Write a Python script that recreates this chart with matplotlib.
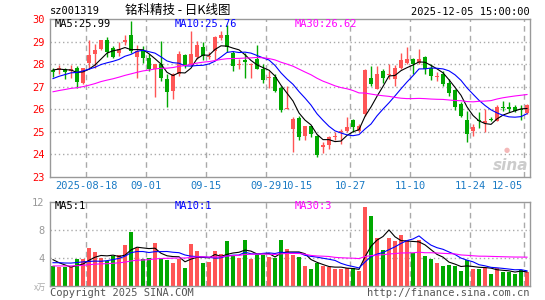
import numpy as np
import matplotlib.pyplot as plt
import matplotlib.transforms as mtransforms

plt.rcParams['font.family'] = ['DejaVu Sans Mono', 'Noto Sans CJK SC']

# daily candles, 2025-08-08 .. 2025-12-05
opens = [27.76, 27.73, 27.80, 27.70, 27.81, 27.18, 28.06, 28.46, 28.65, 29.06,
         28.72, 28.50, 28.99, 29.31, 28.33, 28.58, 28.28, 27.77, 27.99, 27.33,
         26.79, 27.55, 28.40, 27.95, 28.31, 28.77, 28.33, 28.58, 29.16, 29.31,
         28.50, 27.97, 28.17, 27.97, 28.21, 27.77, 27.37, 27.43, 26.94, 26.01,
         25.13, 25.60, 24.80, 25.24, 24.80, 24.33, 24.40, 24.77, 24.99, 25.06,
         25.53, 25.06, 25.79, 27.40, 26.92, 27.70, 27.52, 27.33, 27.84, 28.03,
         28.24, 28.03, 28.31, 27.84, 27.45, 27.58, 27.18, 26.85, 26.23, 25.53,
         25.06, 25.53, 25.38, 25.57, 25.50, 26.08, 26.12, 26.12, 26.00, 25.82]
highs = [27.82, 27.95, 27.84, 27.95, 27.92, 27.84, 29.05, 28.91, 29.06, 29.20,
         28.82, 28.99, 29.28, 29.90, 28.87, 28.80, 28.43, 27.99, 29.01, 27.55,
         27.62, 28.58, 28.43, 29.47, 29.01, 28.97, 28.55, 29.23, 29.45, 29.72,
         28.58, 28.21, 28.50, 28.06, 28.87, 27.99, 27.70, 27.55, 27.04, 27.04,
         25.65, 25.72, 25.28, 25.28, 24.85, 24.55, 24.80, 24.99, 25.13, 25.68,
         25.57, 25.35, 27.77, 27.92, 27.92, 27.77, 28.00, 27.95, 28.50, 28.77,
         28.28, 28.65, 28.36, 27.99, 27.67, 27.70, 27.33, 26.89, 26.31, 25.94,
         25.33, 25.87, 26.01, 25.68, 26.20, 26.38, 26.31, 26.17, 26.20, 26.23]
lows = [27.45, 27.58, 27.33, 27.40, 26.94, 27.11, 27.77, 27.81, 28.62, 28.33,
        28.28, 28.36, 28.87, 28.50, 27.40, 28.06, 27.70, 26.53, 27.26, 26.12,
        26.45, 27.48, 27.84, 27.92, 28.21, 28.20, 28.24, 28.20, 29.09, 28.55,
        27.70, 27.77, 27.40, 27.40, 27.77, 27.18, 26.96, 26.75, 25.87, 26.00,
        24.11, 24.62, 24.62, 24.77, 23.89, 24.07, 24.26, 24.62, 24.48, 24.99,
        24.99, 24.99, 25.72, 27.04, 26.89, 27.18, 27.33, 27.04, 27.77, 28.00,
        27.58, 28.02, 27.55, 27.29, 27.26, 27.04, 26.60, 25.98, 25.68, 24.55,
        24.80, 25.16, 24.99, 25.47, 25.47, 25.94, 25.87, 25.87, 25.53, 25.79]
closes = [27.67, 27.81, 27.67, 27.77, 27.23, 27.81, 28.40, 28.62, 29.06, 28.55,
          28.33, 28.65, 29.09, 28.58, 28.58, 28.28, 27.77, 27.99, 27.40, 26.75,
          27.55, 28.43, 27.92, 28.47, 28.84, 28.36, 28.38, 29.20, 29.28, 28.77,
          27.92, 28.00, 28.11, 28.02, 27.80, 27.30, 27.43, 26.82, 25.97, 26.05,
          25.57, 24.77, 25.24, 24.91, 23.96, 24.40, 24.77, 24.80, 25.03, 25.21,
          25.21, 25.24, 27.74, 27.11, 27.58, 27.40, 27.56, 27.84, 28.18, 28.24,
          27.99, 28.24, 27.77, 27.48, 27.48, 27.11, 26.70, 26.09, 25.72, 24.91,
          25.21, 25.50, 25.50, 25.54, 26.12, 26.05, 26.01, 25.94, 25.97, 26.20]
volumes = [2.81, 2.67, 2.67, 2.70, 3.81, 3.81, 5.38, 4.86, 3.95, 3.52,
           4.33, 4.43, 5.81, 7.67, 5.48, 3.81, 3.95, 6.10, 4.05, 3.67,
           3.24, 3.81, 2.52, 5.95, 4.95, 3.24, 3.43, 4.95, 4.57, 6.38,
           4.24, 3.95, 6.52, 3.81, 4.38, 4.38, 4.10, 4.07, 6.52, 5.24,
           4.38, 4.10, 2.81, 2.38, 3.24, 2.81, 2.67, 2.38, 2.38, 2.52,
           2.52, 2.10, 11.3, 9.95, 6.90, 5.10, 6.81, 6.38, 7.24, 6.62,
           4.76, 6.52, 4.24, 3.81, 3.24, 2.81, 2.96, 2.81, 2.10, 3.67,
           2.39, 2.39, 2.63, 1.67, 2.53, 2.00, 2.00, 1.77, 2.34, 1.96]

# sessions before the visible window (only feed the moving averages)
prior_closes = [26.2, 26.3, 26.25, 26.4, 26.35, 26.5, 26.45, 26.4, 26.6, 26.55,
                26.5, 26.7, 26.6, 26.5, 26.45, 26.6, 26.55, 26.5, 26.6, 26.7,
                26.8, 26.9, 27.0, 27.05, 27.15, 27.6, 27.8, 27.85, 27.78]
prior_volumes = [2.4, 2.8, 2.5, 2.9, 2.3, 2.6, 2.7, 2.5, 2.8, 2.6,
                 2.4, 2.9, 2.6, 2.5, 2.7, 2.6, 2.8, 2.5, 2.7, 2.7,
                 2.7, 3.1, 2.8, 3.0, 2.9, 4.8, 4.3, 4.24, 2.65]

grid_idx = [6, 16, 26, 36, 50, 60, 70, 79]
label_idx = [6, 16, 26, 36, 42, 50, 60, 70, 79]
date_labels = ['2025-08-18', '09-01', '09-15', '09-29', '10-15', '10-27', '11-10', '11-24', '12-05']

RED = '#ff5555'
GREEN = '#00a800'
GRID = '#aaaaaa'
DATE_BLUE = '#1a7ac4'

n = len(closes)
x = np.arange(n)
o = np.array(opens); c = np.array(closes)
up = c >= o
cols = [RED if u else GREEN for u in up]


def ma(vals, prior, k):
    full = np.array(prior + vals)
    out = np.convolve(full, np.ones(k) / k, mode='valid')
    return out[-len(vals):]


W, H = 545, 300
fig = plt.figure(figsize=(W / 100, H / 100), dpi=100)
ax = fig.add_axes([50 / W, 1 - 177 / H, 480 / W, 158 / H])
axv = fig.add_axes([50 / W, 1 - 286 / H, 480 / W, 84 / H])

# candles
ax.vlines(x, lows, highs, colors=cols, linewidth=1)
bot = np.minimum(o, c)
hgt = np.maximum(np.abs(c - o), 0.04)
ax.bar(x, hgt, bottom=bot, width=0.8, color=cols, linewidth=0)
ax.plot(x, ma(closes, prior_closes, 5), color='black', lw=0.8)
ax.plot(x, ma(closes, prior_closes, 10), color='#0000ff', lw=0.8)
ax.plot(x, ma(closes, prior_closes, 30), color='#ff00ff', lw=0.8)

# volume
axv.bar(x, volumes, width=0.8, color=cols, linewidth=0)
axv.plot(x, ma(volumes, prior_volumes, 5), color='black', lw=0.8)
axv.plot(x, ma(volumes, prior_volumes, 10), color='#0000ff', lw=0.8)
axv.plot(x, ma(volumes, prior_volumes, 30), color='#ff00ff', lw=0.8)

for a in (ax, axv):
    a.set_xlim(-0.5, n - 0.5)
    for g in grid_idx:
        a.axvline(g - 0.5, color=GRID, lw=1, ls=(0, (4, 3)), zorder=0)
    a.set_xticks([])
    for s in a.spines.values():
        s.set_color('#999999')
        s.set_linewidth(1)
    a.tick_params(axis='y', length=0, pad=4)

ax.set_ylim(23, 30)
ax.set_yticks(range(23, 31))
ax.set_yticklabels([str(v) for v in range(23, 31)], color='#ff0000', fontsize=7.5)
for v in range(24, 30):
    ax.axhline(v, color=GRID, lw=1, ls=(0, (1, 2)), zorder=0)

axv.set_ylim(0, 12)
axv.set_yticks([4, 8, 12])
axv.set_yticklabels(['4', '8', '12'], color='#999999', fontsize=7.5)
for v in (4, 8):
    axv.axhline(v, color=GRID, lw=1, ls=(0, (1, 2)), zorder=0)

# date labels under the price panel
tr = mtransforms.blended_transform_factory(ax.transData, fig.transFigure)
for i, lab in zip(label_idx, date_labels):
    if lab == '12-05':
        ax.text(i - 0.6, 1 - 186 / H, lab, transform=tr, ha='right', va='center',
                color=DATE_BLUE, fontsize=7.5)
    elif lab == '10-15':
        ax.text(i - 1.2, 1 - 186 / H, lab, transform=tr, ha='center', va='center',
                color=DATE_BLUE, fontsize=7.5)
    else:
        ax.text(i - 0.5, 1 - 186 / H, lab, transform=tr, ha='center', va='center',
                color=DATE_BLUE, fontsize=7.5)

# MA legends
ax.text(55 / W, 1 - 24 / H, 'MA5:25.99', transform=fig.transFigure, color='black', fontsize=7.5, va='center')
ax.text(175 / W, 1 - 24 / H, 'MA10:25.76', transform=fig.transFigure, color='#0000ff', fontsize=7.5, va='center')
ax.text(295 / W, 1 - 24 / H, 'MA30:26.62', transform=fig.transFigure, color='#ff00ff', fontsize=7.5, va='center')
axv.text(55 / W, 1 - 206 / H, 'MA5:1', transform=fig.transFigure, color='black', fontsize=7.5, va='center')
axv.text(175 / W, 1 - 206 / H, 'MA10:1', transform=fig.transFigure, color='#0000ff', fontsize=7.5, va='center')
axv.text(295 / W, 1 - 206 / H, 'MA30:3', transform=fig.transFigure, color='#ff00ff', fontsize=7.5, va='center')

# header / footer
fig.text(50 / W, 1 - 11 / H, 'sz001319', fontsize=7.5, va='center')
fig.text(178 / W, 1 - 10 / H, '铭科精技 - 日K线图', fontsize=9, ha='center', va='center',
         family=['Noto Sans CJK SC', 'DejaVu Sans'])
fig.text(530 / W, 1 - 12 / H, '2025-12-05 15:00:00', fontsize=7.5, ha='right', va='center')
fig.text(46 / W, 1 - 287 / H, 'x万', fontsize=6, ha='right', va='center', color='#aaaaaa',
         family=['Noto Sans CJK SC', 'DejaVu Sans'])
fig.text(50 / W, 1 - 293 / H, 'Copyright 2025 SINA.COM', fontsize=7.5, va='center', color='#555555')
fig.text(530 / W, 1 - 293 / H, 'http://finance.sina.com.cn', fontsize=7.5, ha='right', va='center', color='#555555')

# faint watermark
fig.text(511 / W, 1 - 165 / H, 'sina', fontsize=11, ha='center', va='center', color='#cccccc',
         style='italic', weight='bold', family='DejaVu Sans')
fig.text(507 / W, 1 - 150 / H, '●', fontsize=5, ha='center', va='center', color='#f4b8b8',
         family='DejaVu Sans')

fig.savefig('out.png', dpi=100)
